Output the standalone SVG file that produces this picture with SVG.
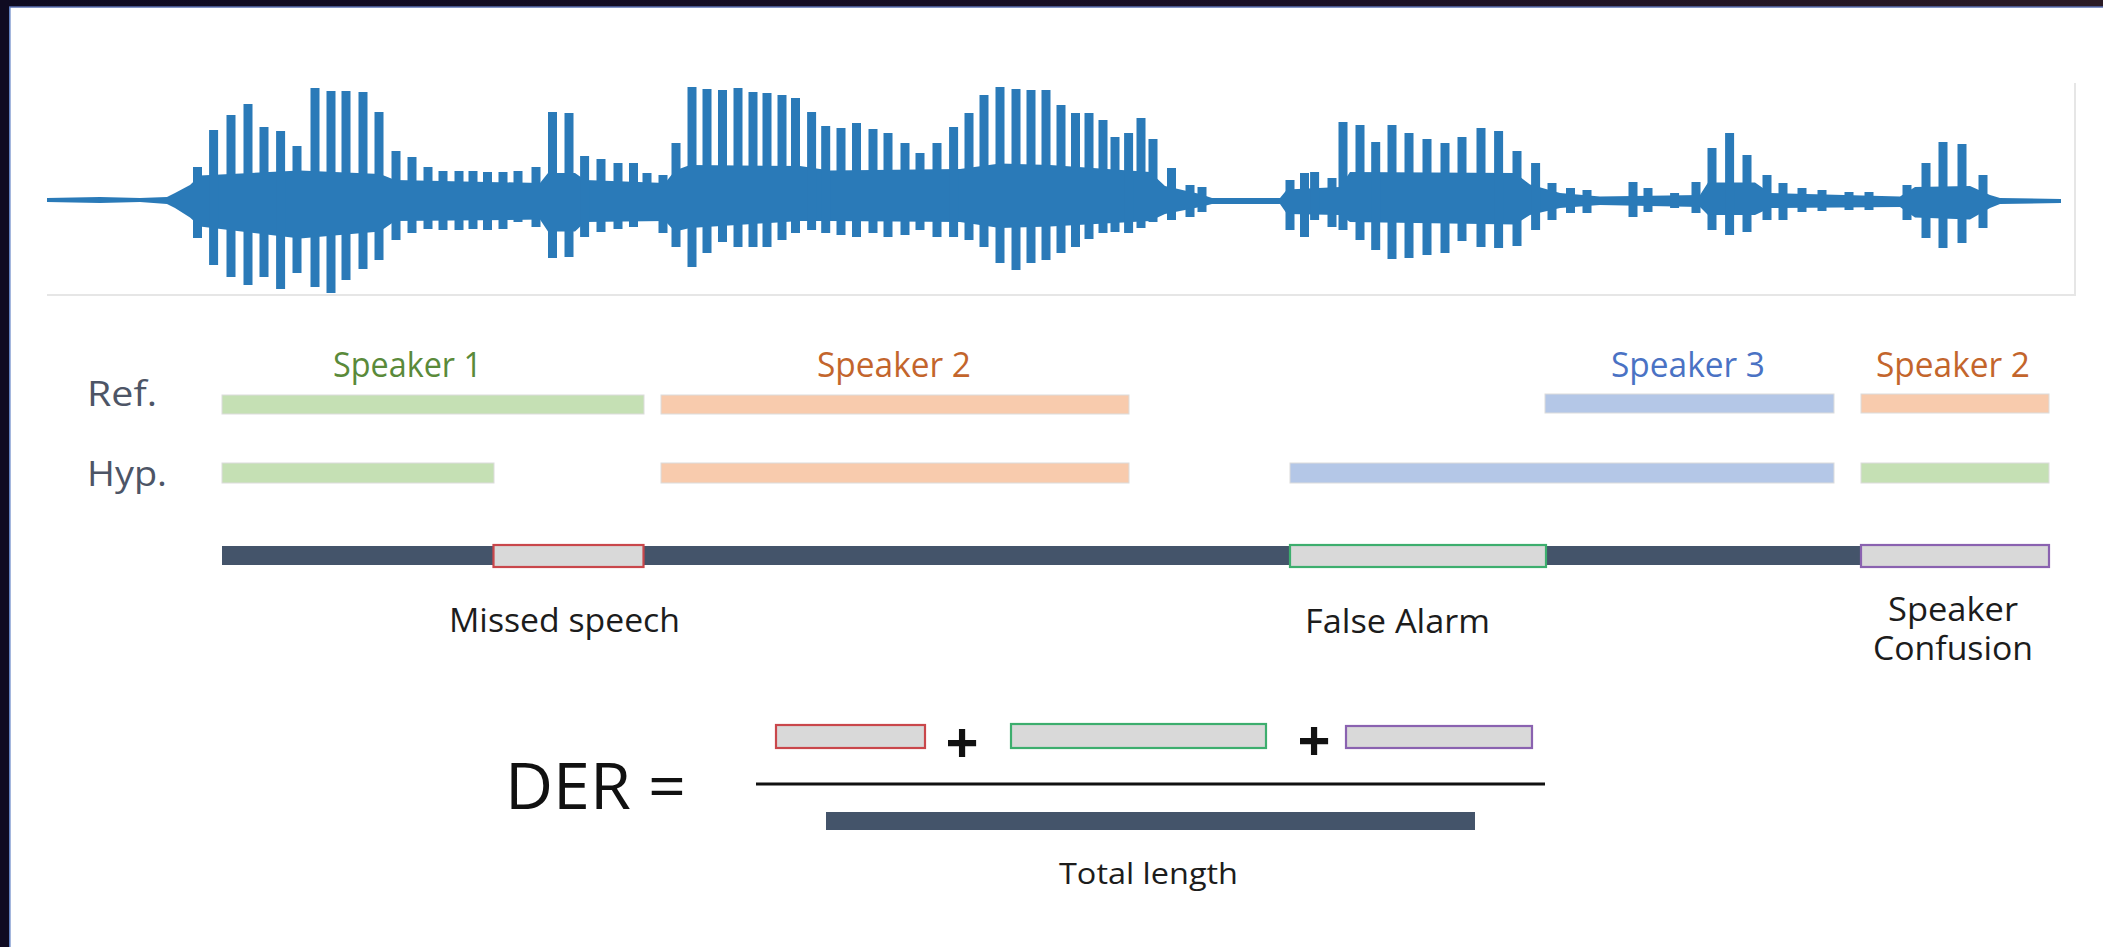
<svg xmlns="http://www.w3.org/2000/svg" width="2103" height="947" viewBox="0 0 2103 947">
<defs>
<linearGradient id="topband" x1="0" x2="1" y1="0" y2="0">
<stop offset="0" stop-color="#0f0b22"/>
<stop offset="0.6" stop-color="#1a1026"/>
<stop offset="1" stop-color="#2b1b25"/>
</linearGradient>
<style>
.lbl{font-family:"Open Sans","Noto Sans","DejaVu Sans",sans-serif;}
.row{font-size:34px;fill:#4d5566}
.spk{font-size:34px}
.cap{font-size:32px;fill:#1c1c1c}
.seg{stroke:#dcdcdc;stroke-width:1}
.err{fill:#d9d9d9;stroke-width:2.2}
.wf{stroke:#2a7ab8;stroke-width:9;fill:none}
.g{fill:#c5e0b4}
.o{fill:#f8cbad}
.b{fill:#b4c7e7}
.n{fill:#44546a}
</style>
</defs>
<rect width="2103" height="947" fill="#ffffff"/>
<g id="frame">
<rect x="0" y="0" width="2103" height="7" fill="url(#topband)"/>
<rect x="0" y="0" width="9" height="947" fill="#0f0b22"/>
<line x1="9" y1="7" x2="2103" y2="7" stroke="#5a6fb0" stroke-width="1.5"/>
<line x1="9.8" y1="7" x2="9.8" y2="947" stroke="#5a7cc0" stroke-width="1.5"/>
</g>
<g id="waveform">
<path d="M47 295 H2075 V83" stroke="#e6e6e6" stroke-width="2" fill="none"/>
<path fill="#2a7ab8" d="M47,198 L100,197 L140,198 L167,197 L175,193 L190,185 L200,175.5 L300,170.6 L380,174 L395,180 L540,183 L548,173 L575,173 L585,180 L665,183 L675,170.6 L690,165 L800,166 L830,170.6 L960,169 L1000,163.6 L1050,165 L1150,172 L1165,186 L1200,194 L1212,198 L1280,198 L1287,189.5 L1340,187 L1350,172 L1515,173 L1530,184.6 L1560,193 L1600,196.5 L1700,195 L1708,182.5 L1755,182.5 L1770,193 L1900,196.5 L1915,187 L1970,186 L1990,195 L2000,198 L2061,199 L2061,203 L2000,204 L1990,208 L1970,219.6 L1915,217.5 L1900,207 L1770,208 L1755,215 L1708,215 L1700,207 L1600,205 L1560,208 L1530,215 L1515,224.5 L1350,222 L1340,215 L1287,214 L1280,204 L1212,204 L1200,207 L1165,214 L1150,221 L1050,226.6 L1000,228 L960,222 L830,221 L800,221 L690,228 L675,231.5 L665,221 L585,222 L575,231.5 L548,231.5 L540,219.6 L395,221 L380,231.5 L300,238.5 L200,226.6 L190,217.5 L175,208 L167,204 L140,202 L100,203 L47,202 Z"/>
<path class="wf" d="M197.5 167V238 M213.6 130V265 M231 115V277 M248 104V285 M264 127V277 M280.6 131V289 M297 146V273 M315 88V287 M331 91V293 M346 91V280 M363 92V269 M379 112V260 M396 151V240 M412 157V233 M428 167V229 M443 171V230 M459 171V230 M473 171V229 M487.5 172V230 M503 172V229 M518 171V222 M536 167V227 M552.5 112V258 M569 113V257 M584.6 156V237 M601 159V232 M618 163V229 M633.5 163V227 M647 173V220 M663 175V233 M676 143V247 M692 87V267 M707 89V253 M722.5 90V242 M738 88V247 M753 92V247 M767 93V247 M782 95V240 M795.5 98V233 M811.6 112V230 M825.7 126V233 M841 128V235 M856.5 123V237 M873 129V233 M888 133V237 M905 143V235 M920 153V230 M937 143V237 M953.6 127V237 M969 113V240 M984 95V247 M1000 87V263 M1016 89V270 M1031 90V263 M1046 90V260 M1061 105V253 M1075.5 113V247 M1089 113V239 M1103 120V233 M1115 137V232 M1128.6 133V233 M1141 118V228 M1153 139V222 M1171.5 168V220 M1190 185V217 M1202 187V212 M1290 180V230 M1304.5 173V237 M1314.6 172V220 M1332 178V227 M1343 122V230 M1360 125V240 M1375.7 142V250 M1392 125V259 M1409 133V258 M1427 139V255 M1445 143V253 M1462 137V241 M1481 128V247 M1498.6 131V248 M1517 151V246 M1535.6 163V230 M1552 183V220 M1570.5 188V213 M1587 190V213 M1633 182V217 M1648 188V212 M1674.6 193V208 M1696 182V213 M1712 148V230 M1729.6 133V235 M1747 155V232 M1767 175V220 M1783 183V220 M1802 188V212 M1822 190V211 M1849 192V210 M1869 192V210 M1907 185V220 M1926 163V238 M1943 142V248 M1962 144V243 M1983 175V228"/>
</g>
<g id="row-labels">
<text class="lbl row" x="87" y="406" textLength="70" lengthAdjust="spacingAndGlyphs">Ref.</text>
<text class="lbl row" x="87" y="486" textLength="80" lengthAdjust="spacingAndGlyphs">Hyp.</text>
</g>
<g id="speaker-labels">
<text class="lbl spk" x="333" y="377" fill="#5a8a3a" textLength="149" lengthAdjust="spacingAndGlyphs">Speaker 1</text>
<text class="lbl spk" x="817" y="377" fill="#c3652c" textLength="154" lengthAdjust="spacingAndGlyphs">Speaker 2</text>
<text class="lbl spk" x="1611" y="377" fill="#4a72c4" textLength="154" lengthAdjust="spacingAndGlyphs">Speaker 3</text>
<text class="lbl spk" x="1876" y="377" fill="#c3652c" textLength="154" lengthAdjust="spacingAndGlyphs">Speaker 2</text>
</g>
<g id="ref-row">
<rect class="g seg" x="222" y="395" width="422" height="19"/>
<rect class="o seg" x="661" y="395" width="468" height="19"/>
<rect class="b seg" x="1545" y="394" width="289" height="19"/>
<rect class="o seg" x="1861" y="394" width="188" height="19"/>
</g>
<g id="hyp-row">
<rect class="g seg" x="222" y="463" width="272" height="20"/>
<rect class="o seg" x="661" y="463" width="468" height="20"/>
<rect class="b seg" x="1290" y="463" width="544" height="20"/>
<rect class="g seg" x="1861" y="463" width="188" height="20"/>
</g>
<g id="error-row">
<rect class="n" x="222" y="546" width="1639" height="19"/>
<rect class="err" x="493.5" y="545" width="150" height="22" stroke="#c9474b"/>
<rect class="err" x="1290" y="545" width="256" height="22" stroke="#3dae6e"/>
<rect class="err" x="1861" y="545" width="188" height="22" stroke="#8a62b0"/>
</g>
<g id="error-labels">
<text class="lbl cap" x="449" y="632" textLength="231" lengthAdjust="spacingAndGlyphs">Missed speech</text>
<text class="lbl cap" x="1305" y="633" textLength="185" lengthAdjust="spacingAndGlyphs">False Alarm</text>
<text class="lbl cap" x="1888" y="621" textLength="130" lengthAdjust="spacingAndGlyphs">Speaker</text>
<text class="lbl cap" x="1873" y="660" textLength="160" lengthAdjust="spacingAndGlyphs">Confusion</text>
</g>
<g id="formula">
<text class="lbl" x="505" y="809" font-size="64" fill="#111111" textLength="181" lengthAdjust="spacingAndGlyphs">DER =</text>
<rect class="err" x="776" y="725" width="149" height="23" stroke="#c9474b"/>
<text class="lbl" x="962" y="763" font-size="58" font-weight="bold" fill="#111111" text-anchor="middle">+</text>
<rect class="err" x="1011" y="724" width="255" height="24" stroke="#3dae6e"/>
<text class="lbl" x="1314" y="761" font-size="58" font-weight="bold" fill="#111111" text-anchor="middle">+</text>
<rect class="err" x="1346" y="726" width="186" height="22" stroke="#8a62b0"/>
<line x1="756" y1="784" x2="1545" y2="784" stroke="#111111" stroke-width="3"/>
<rect class="n" x="826" y="812" width="649" height="18"/>
<text class="lbl" x="1059" y="884" font-size="30" fill="#1c1c1c" textLength="179" lengthAdjust="spacingAndGlyphs">Total length</text>
</g>
</svg>
